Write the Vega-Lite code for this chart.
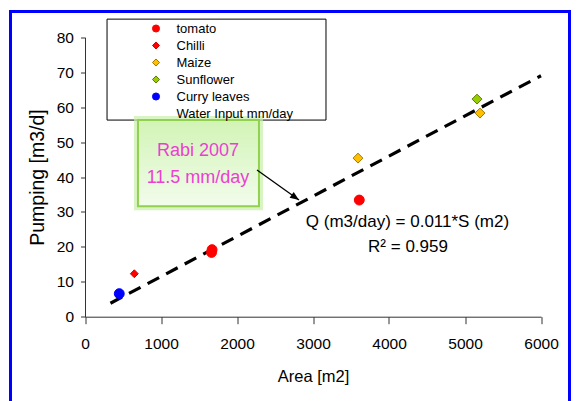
{
  "$schema": "https://vega.github.io/schema/vega-lite/v6.json",
  "width": 559,
  "height": 389.5,
  "autosize": {"type": "none"},
  "padding": {"left": 10.5, "top": 11.5, "right": 9.5, "bottom": 0},
  "background": "white",
  "config": {
    "view": {"stroke": "#0000FF", "strokeWidth": 3, "strokeDash": [948.5, 559, 389.5], "fill": "white"},
    "font": "Liberation Sans"
  },
  "datasets": {
    "legendBox": [{"area": 290, "area2": 3171, "pumping": 56.3, "pumping2": 85.2}],
    "trend": [{"area": 335, "pumping": 3.85}, {"area": 6000, "pumping": 69}],
    "points": [
      {"crop": "Curry leaves", "area": 451, "pumping": 6.6},
      {"crop": "Chilli", "area": 649, "pumping": 12.3},
      {"crop": "tomato", "area": 1665, "pumping": 18.4},
      {"crop": "tomato", "area": 1672, "pumping": 19.2},
      {"crop": "tomato", "area": 3609, "pumping": 33.4},
      {"crop": "Maize", "area": 3592, "pumping": 45.4},
      {"crop": "Maize", "area": 5197, "pumping": 58.3},
      {"crop": "Sunflower", "area": 5158, "pumping": 62.3}
    ],
    "box": [{"area": 697, "area2": 2289, "pumping": 31.6, "pumping2": 56.3}],
    "boxText": [
      {"label": "Rabi 2007", "area": 1487, "pumping": 47.4},
      {"label": "11.5 mm/day", "area": 1487, "pumping": 39.7}
    ],
    "eq": [
      {"label": "Q (m3/day) = 0.011*S (m2)", "area": 4243, "pumping": 27.1},
      {"label": "R² = 0.959", "area": 4250, "pumping": 20.0}
    ],
    "arrow": [{"area": 2263, "pumping": 42.0, "area2": 2816, "pumping2": 33.4}]
  },
  "layer": [
    {
      "data": {"name": "legendBox"},
      "mark": {"type": "rect", "fill": "transparent", "stroke": "black", "strokeWidth": 1},
      "encoding": {
        "x": {"field": "area", "type": "quantitative"},
        "x2": {"field": "area2"},
        "y": {"field": "pumping", "type": "quantitative"},
        "y2": {"field": "pumping2"}
      }
    },
    {
      "data": {"name": "trend"},
      "mark": {"type": "line", "color": "black", "strokeWidth": 3.2, "strokeDash": [13, 8], "strokeCap": "butt"},
      "encoding": {
        "x": {"field": "area", "type": "quantitative"},
        "y": {"field": "pumping", "type": "quantitative"}
      }
    },
    {
      "data": {"name": "points"},
      "mark": {"type": "point", "filled": true, "strokeWidth": 1, "opacity": 1},
      "encoding": {
        "x": {
          "field": "area", "type": "quantitative",
          "scale": {"domain": [0, 6000], "range": [74.5, 530.5], "nice": false, "zero": false},
          "axis": {
            "title": "Area [m2]", "values": [0, 1000, 2000, 3000, 4000, 5000, 6000], "format": "d",
            "offset": -84.3, "grid": false, "tickSize": 7, "labelPadding": 13,
            "labelFont": "Liberation Sans", "labelFontSize": 15.5, "labelColor": "black",
            "labelFlush": false, "labelOverlap": false,
            "domainColor": "#333333", "tickColor": "#333333", "domainWidth": 1, "tickWidth": 1,
            "titleFont": "Liberation Sans", "titleFontSize": 16.5, "titleFontWeight": "normal",
            "titleColor": "black", "titlePadding": 16
          }
        },
        "y": {
          "field": "pumping", "type": "quantitative",
          "scale": {"domain": [0, 80], "range": [305.2, 25.8], "nice": false, "zero": false},
          "axis": {
            "title": "Pumping [m3/d]", "values": [0, 10, 20, 30, 40, 50, 60, 70, 80], "format": "d",
            "offset": -74.5, "grid": false, "tickSize": 4.5, "labelPadding": 7,
            "labelFont": "Liberation Sans", "labelFontSize": 15.5, "labelColor": "black",
            "labelFlush": false, "labelOverlap": false,
            "domainColor": "#333333", "tickColor": "#333333", "domainWidth": 1, "tickWidth": 1,
            "titleFont": "Liberation Sans", "titleFontSize": 19.5, "titleFontWeight": "normal",
            "titleColor": "black", "titlePadding": 9
          }
        },
        "fill": {
          "field": "crop", "type": "nominal",
          "scale": {
            "domain": ["tomato", "Chilli", "Maize", "Sunflower", "Curry leaves", "Water Input mm/day"],
            "range": ["#FF0000", "#FF0000", "#FFC000", "#99CC00", "#0000FF", "transparent"]
          },
          "legend": {
            "orient": "none", "legendX": 139, "legendY": 10.5, "title": null, "zindex": 2,
            "labelFont": "Liberation Sans", "labelFontSize": 13, "labelColor": "black",
            "symbolSize": 50, "rowPadding": 3, "labelOffset": 14, "padding": 0, "symbolStrokeWidth": 1
          }
        },
        "stroke": {
          "field": "crop", "type": "nominal",
          "scale": {
            "domain": ["tomato", "Chilli", "Maize", "Sunflower", "Curry leaves", "Water Input mm/day"],
            "range": ["#FF0000", "#D00000", "#A07800", "#5A7A00", "#0000FF", "transparent"]
          }
        },
        "shape": {
          "field": "crop", "type": "nominal",
          "scale": {
            "domain": ["tomato", "Chilli", "Maize", "Sunflower", "Curry leaves", "Water Input mm/day"],
            "range": ["circle", "diamond", "diamond", "diamond", "circle", "circle"]
          }
        },
        "size": {"condition": {"test": "datum.crop === 'Chilli'", "value": 62}, "value": 98}
      }
    },
    {
      "data": {"name": "box"},
      "mark": {"type": "rect", "fill": "transparent", "stroke": "#C8F0A8", "strokeWidth": 8, "strokeOpacity": 0.7},
      "encoding": {
        "x": {"field": "area", "type": "quantitative"},
        "x2": {"field": "area2"},
        "y": {"field": "pumping", "type": "quantitative"},
        "y2": {"field": "pumping2"}
      }
    },
    {
      "data": {"name": "box"},
      "mark": {
        "type": "rect", "stroke": "#92D050", "strokeWidth": 2,
        "fill": {"gradient": "linear", "x1": 0, "y1": 0, "x2": 0, "y2": 1,
          "stops": [{"offset": 0, "color": "#D2F4B6"}, {"offset": 1, "color": "#F2FCEC"}]}
      },
      "encoding": {
        "x": {"field": "area", "type": "quantitative"},
        "x2": {"field": "area2"},
        "y": {"field": "pumping", "type": "quantitative"},
        "y2": {"field": "pumping2"}
      }
    },
    {
      "data": {"name": "boxText"},
      "mark": {"type": "text", "font": "Liberation Sans", "fontSize": 18, "color": "#EC3FD2", "align": "center", "baseline": "middle"},
      "encoding": {
        "x": {"field": "area", "type": "quantitative"},
        "y": {"field": "pumping", "type": "quantitative"},
        "text": {"field": "label"}
      }
    },
    {
      "data": {"name": "eq"},
      "mark": {"type": "text", "font": "Liberation Sans", "fontSize": 17, "color": "black", "align": "center", "baseline": "middle"},
      "encoding": {
        "x": {"field": "area", "type": "quantitative"},
        "y": {"field": "pumping", "type": "quantitative"},
        "text": {"field": "label"}
      }
    },
    {
      "data": {"name": "arrow"},
      "mark": {"type": "rule", "color": "black", "strokeWidth": 1.3},
      "encoding": {
        "x": {"field": "area", "type": "quantitative"},
        "x2": {"field": "area2"},
        "y": {"field": "pumping", "type": "quantitative"},
        "y2": {"field": "pumping2"}
      }
    },
    {
      "data": {"name": "arrow"},
      "mark": {"type": "point", "shape": "M0,0L-0.4,1L0.4,1Z", "filled": true, "color": "black", "size": 324, "angle": 125, "opacity": 1},
      "encoding": {
        "x": {"field": "area2", "type": "quantitative"},
        "y": {"field": "pumping2", "type": "quantitative"}
      }
    }
  ]
}
